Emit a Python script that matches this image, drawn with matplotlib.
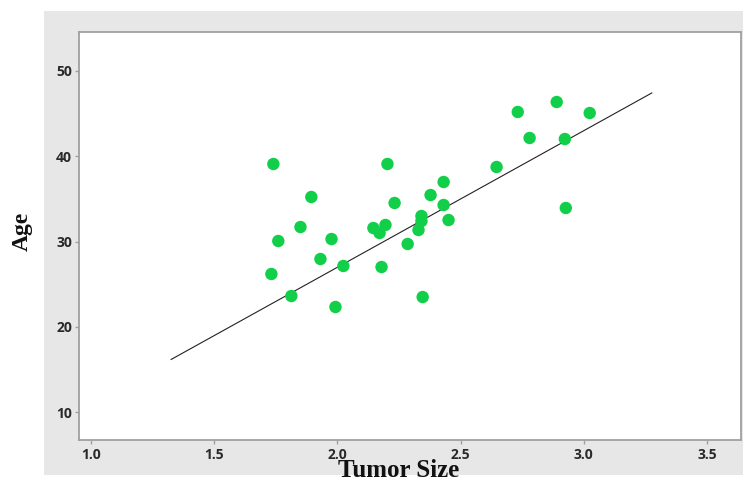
import matplotlib.pyplot as plt
from matplotlib.patches import Rectangle

# tumor size vs age
tumor_size = [1.740, 1.732, 1.760, 1.813, 1.850, 1.894, 1.931, 1.976, 1.992, 2.024,
              2.146, 2.171, 2.195, 2.179, 2.203, 2.232, 2.285, 2.341, 2.341, 2.329,
              2.346, 2.378, 2.431, 2.431, 2.451, 2.646, 2.732, 2.780, 2.890, 2.923,
              3.024, 2.927]
age = [39.09, 26.19, 30.06, 23.61, 31.70, 35.22, 27.95, 30.29, 22.32, 27.13,
       31.58, 31.00, 31.94, 27.01, 39.09, 34.52, 29.71, 32.99, 32.40, 31.35,
       23.49, 35.45, 36.98, 34.28, 32.52, 38.74, 45.19, 42.14, 46.36, 42.02,
       45.07, 33.93]

# fitted line
fit_x = [1.325, 3.276]
fit_intercept = -5.06
fit_slope = 16.02

x_ticks = [1.0, 1.5, 2.0, 2.5, 3.0, 3.5]
y_ticks = [10, 20, 30, 40, 50]

fig = plt.figure(figsize=(7.43, 4.82), dpi=100)
fig.patch.set_facecolor("white")
fig.patches.append(Rectangle((0.0592, 0.0145), 0.9408, 0.9627, transform=fig.transFigure,
                             facecolor="#e7e7e7", edgecolor="none", zorder=-10))

ax = fig.add_axes([0.1063, 0.0871, 0.891, 0.8465])
ax.set_zorder(1)
ax.set_facecolor("white")

ax.scatter(tumor_size, age, s=80, color="#12cf4a", edgecolors="none", zorder=3)
fit_y = [fit_intercept + fit_slope * v for v in fit_x]
ax.plot(fit_x, fit_y, color="#222222", linewidth=0.8, zorder=2)

ax.set_xlim(0.951, 3.638)
ax.set_ylim(6.72, 54.57)
ax.set_xticks(x_ticks)
ax.set_xticklabels([f"{v:.1f}" for v in x_ticks])
ax.set_yticks(y_ticks)
ax.set_yticklabels([str(v) for v in y_ticks])

for sp in ax.spines.values():
    sp.set_color("#a0a0a0")
    sp.set_linewidth(1.3)
ax.tick_params(direction="out", length=3, width=1, color="#a0a0a0", labelcolor="#2a2a2a")
ax.tick_params(axis="x", pad=3)
ax.tick_params(axis="y", pad=2)
for lab in ax.get_xticklabels() + ax.get_yticklabels():
    lab.set_fontfamily("Open Sans")
    lab.set_fontweight("bold")
    lab.set_fontsize(10)

fig.text(0.536, 0.024, "Tumor Size", family="Liberation Serif", weight="bold",
         fontsize=18, ha="center", va="center", color="#111111", zorder=5)
fig.text(0.0296, 0.519, "Age", family="Liberation Serif", weight="bold",
         fontsize=17, ha="center", va="center", rotation=90, color="#111111")

fig.savefig("out.png", dpi=100, facecolor=fig.get_facecolor())
